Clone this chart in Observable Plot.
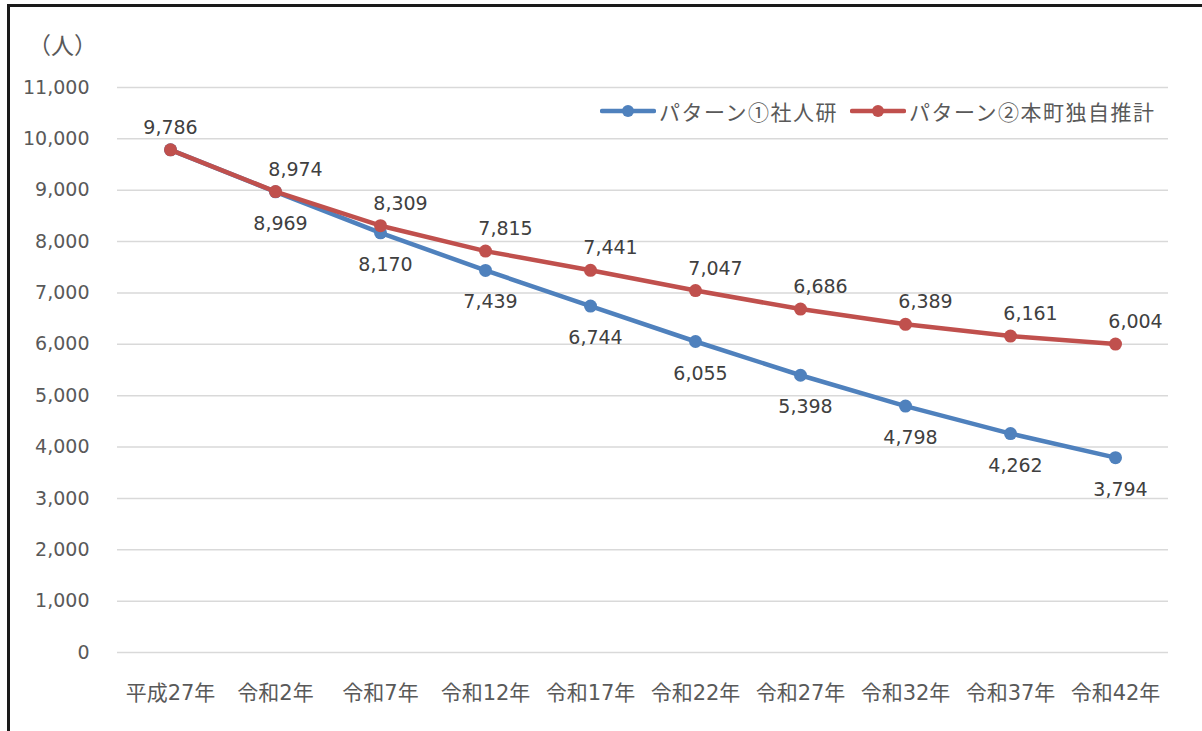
<!DOCTYPE html>
<html>
<head>
<meta charset="utf-8">
<script src="https://cdn.jsdelivr.net/npm/d3@7"></script>
<script src="https://cdn.jsdelivr.net/npm/@observablehq/plot@0.6"></script>
<style>
  body { margin: 0; background: #fff; }
  #wrap { position: relative; width: 1202px; height: 731px; overflow: hidden; background: #fff; }
  #frame { position: absolute; left: 7px; top: 4px; width: 1220px; height: 760px; border: 3px solid #1a1a1a; box-sizing: border-box; pointer-events: none; }
  #unit { position: absolute; left: 28px; top: 27px; font: 23px 'Noto Sans CJK JP', sans-serif; color: #595959; }
  #legend { position: absolute; left: 600px; top: 96px; height: 30px; display: flex; align-items: center; font: 21px 'Noto Sans CJK JP', sans-serif; letter-spacing: 1.5px; color: #595959; white-space: nowrap; }
  #legend .item { display: flex; align-items: center; margin-right: 12px; }
  #legend svg { margin-right: 3px; }
  #chart { position: absolute; left: 0; top: 0; }
</style>
</head>
<body>
<div id="wrap">
  <div id="chart"></div>
  <div id="unit">（人）</div>
  <div id="legend"></div>
  <div id="frame"></div>
</div>
<script>
const years = ["平成27年", "令和2年", "令和7年", "令和12年", "令和17年", "令和22年", "令和27年", "令和32年", "令和37年", "令和42年"];
const pattern1 = [9786, 8969, 8170, 7439, 6744, 6055, 5398, 4798, 4262, 3794];
const pattern2 = [9786, 8974, 8309, 7815, 7441, 7047, 6686, 6389, 6161, 6004];
const seriesNames = ["パターン①社人研", "パターン②本町独自推計"];
const seriesColors = ["#4F81BD", "#C0504D"];
const yTicks = [0, 1000, 2000, 3000, 4000, 5000, 6000, 7000, 8000, 9000, 10000, 11000];

const fmt = d3.format(",");
const d1 = years.map((y, i) => ({year: y, value: pattern1[i], idx: i}));
const d2 = years.map((y, i) => ({year: y, value: pattern2[i], idx: i}));

const latin = "'DejaVu Sans', 'Noto Sans CJK JP', sans-serif";

const chart = Plot.plot({
  width: 1202,
  height: 731,
  marginLeft: 117,
  marginRight: 34,
  marginTop: 87,
  marginBottom: 79,
  style: {fontFamily: latin, fontSize: "19px", color: "#595959", background: "transparent"},
  x: {type: "point", domain: years, padding: 0.5, label: null},
  y: {domain: [0, 11000], label: null},
  marks: [
    Plot.gridY(yTicks, {stroke: "#d9d9d9", strokeOpacity: 1, strokeWidth: 1.5}),
    Plot.axisY({ticks: yTicks, tickSize: 0, tickPadding: 28, tickFormat: fmt, fontSize: 19, fontFamily: latin, label: null}),
    Plot.axisX({tickSize: 0, tickPadding: 33, fontSize: 21, fontFamily: latin, letterSpacing: 0.8, label: null}),
    Plot.line(d1, {x: "year", y: "value", stroke: seriesColors[0], strokeWidth: 4.5}),
    Plot.dot(d1, {x: "year", y: "value", r: 6.5, fill: seriesColors[0], stroke: "none"}),
    Plot.line(d2, {x: "year", y: "value", stroke: seriesColors[1], strokeWidth: 4.5}),
    Plot.dot(d2, {x: "year", y: "value", r: 6.5, fill: seriesColors[1], stroke: "none"}),
    Plot.text(d1.filter(d => d.idx > 0), {x: "year", y: "value", text: d => fmt(d.value), dx: 5, dy: 32, fontSize: 19, fill: "#404040", fontFamily: latin}),
    Plot.text(d2.filter(d => d.idx > 0), {x: "year", y: "value", text: d => fmt(d.value), dx: 20, dy: -22, fontSize: 19, fill: "#404040", fontFamily: latin}),
    Plot.text(d2.filter(d => d.idx === 0), {x: "year", y: "value", text: d => fmt(d.value), dx: 0, dy: -22, fontSize: 19, fill: "#404040", fontFamily: latin})
  ]
});
document.getElementById("chart").appendChild(chart);

const legend = document.getElementById("legend");
seriesNames.forEach((name, i) => {
  const item = document.createElement("div");
  item.className = "item";
  item.innerHTML = `<svg width="56" height="14"><line x1="2" y1="7" x2="54" y2="7" stroke="${seriesColors[i]}" stroke-width="4.5" stroke-linecap="round"/><circle cx="28" cy="7" r="6" fill="${seriesColors[i]}"/></svg><span>${name}</span>`;
  legend.appendChild(item);
});
</script>
</body>
</html>
